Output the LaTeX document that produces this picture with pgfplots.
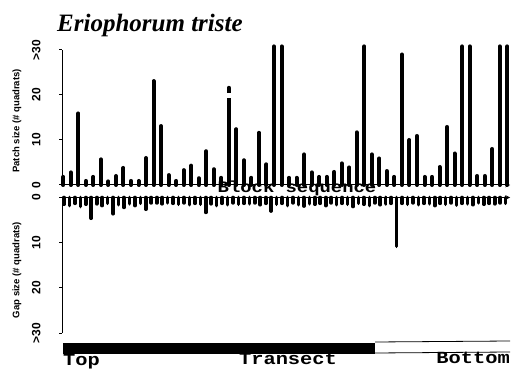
\documentclass[border=0pt]{standalone}
\usepackage{pgfplots}
\pgfplotsset{compat=1.18}
\usepackage{pgfplotstable}
\usepackage{fontspec}
\setmainfont{Liberation Serif}
\newfontfamily\monob{Liberation Mono}
\newfontfamily\sansf{Liberation Sans}

\pgfplotstableread{
x y
1 1.8
2 2.8
3 15.9
4 0.9
5 1.8
6 5.7
7 0.8
8 2.0
9 3.8
10 0.9
11 0.9
12 6.0
13 23.1
14 13.1
15 2.2
16 0.9
17 3.3
18 4.3
19 1.5
20 7.5
21 3.5
22 1.6
23 21.6
24 12.4
25 5.5
26 1.6
27 11.6
28 4.6
29 30.8
30 30.8
31 1.6
32 1.6
33 6.8
34 2.8
35 1.8
36 1.8
37 2.9
38 4.8
39 3.9
40 11.7
41 30.8
42 6.8
43 5.9
44 3.1
45 1.8
46 29.0
47 10.0
48 10.9
49 1.8
50 1.8
51 4.0
52 12.9
53 7.0
54 30.8
55 30.8
56 2.0
57 2.0
58 8.0
59 30.8
60 30.8
}\patch

\pgfplotstableread{
x y
0 1.5
1 1.8
2 1.3
3 2.0
4 1.5
5 4.6
6 1.4
7 1.8
8 1.3
9 3.6
10 1.6
11 2.2
12 1.4
13 1.8
14 1.3
15 2.6
16 1.2
17 1.2
18 1.4
19 1.2
20 1.3
21 1.5
22 1.2
23 1.6
24 1.3
25 1.5
26 3.3
27 1.4
28 1.8
29 1.3
30 1.6
31 1.2
32 1.5
33 1.3
34 1.4
35 1.2
36 1.6
37 1.3
38 3.0
39 1.5
40 1.3
41 1.8
42 1.2
43 1.6
44 1.9
45 1.4
46 1.5
47 1.3
48 1.8
49 1.2
50 1.6
51 1.3
52 1.5
53 2.0
54 1.3
55 1.5
56 1.8
57 1.2
58 1.6
59 1.4
60 1.3
61 10.8
62 1.3
63 1.5
64 1.2
65 1.6
66 1.3
67 1.4
68 1.8
69 1.3
70 1.5
71 1.2
72 1.7
73 1.3
74 1.4
75 1.6
76 1.2
77 1.5
78 1.3
79 1.4
80 1.2
81 1.3
}\gap

\begin{document}
\begin{tikzpicture}
\useasboundingbox (0pt,0pt) rectangle (513pt,369pt);
\pgfplotsset{
  common/.style={
    scale only axis, width=448pt, clip=false,
    axis y line=left, axis line style={-, line width=1pt},
    xtick=\empty, ytick={0,10,20,30}, yticklabels={0,10,20,>30},
    tick align=outside, major tick length=3pt,
    tick style={line width=1pt, black},
    ymin=0, ymax=30,
    yticklabel style={rotate=90, anchor=south, yshift=15pt,
      font=\sansf\bfseries\fontsize{12}{12}\selectfont},
  }
}
\begin{axis}[common, at={(62pt,184pt)}, anchor=south west, height=135pt,
  xmin=0.83, xmax=60.36, axis x line=bottom]
\addplot[ycomb, black, line width=4pt, line cap=round] table[x=x,y=y] {\patch};
\addplot[white, line width=5pt, line cap=butt] coordinates {(23,19.4) (23,20.5)};
\end{axis}
\begin{axis}[common, at={(62pt,36pt)}, anchor=south west, height=135.5pt,
  y dir=reverse, xmin=-0.37, xmax=81.8, axis x line=top]
\addplot[ycomb, black, line width=3.6pt, line cap=round] table[x=x,y=y] {\gap};
\end{axis}
\node[anchor=base west, font=\bfseries\itshape\fontsize{25}{25}\selectfont, inner sep=0pt] at (57pt,337pt) {Eriophorum triste};
\node[rotate=90, font=\sansf\bfseries\fontsize{9.5}{9.5}\selectfont] at (17pt,248pt) {Patch size (\# quadrats)};
\node[rotate=90, font=\sansf\bfseries\fontsize{9.5}{9.5}\selectfont] at (17pt,99pt) {Gap size (\# quadrats)};
\node[anchor=base, inner sep=0pt, xscale=1.18, font=\monob\bfseries\fontsize{16}{16}\selectfont] at (297pt,176.5pt) {Block sequence};
\fill[black] (63pt,15pt) rectangle (375pt,26.5pt);
\draw[line width=0.8pt] (375pt,27pt) -- (510pt,28pt);
\draw[line width=0.8pt] (375pt,16pt) -- (510pt,17pt);
\node[anchor=base west, inner sep=0pt, xscale=1.2, font=\monob\bfseries\fontsize{17}{17}\selectfont] at (63pt,4pt) {Top};
\node[anchor=base, inner sep=0pt, xscale=1.2, font=\monob\bfseries\fontsize{17}{17}\selectfont] at (288pt,5pt) {Transect};
\node[anchor=base east, inner sep=0pt, xscale=1.2, font=\monob\bfseries\fontsize{17}{17}\selectfont] at (510pt,6pt) {Bottom};
\end{tikzpicture}
\end{document}
